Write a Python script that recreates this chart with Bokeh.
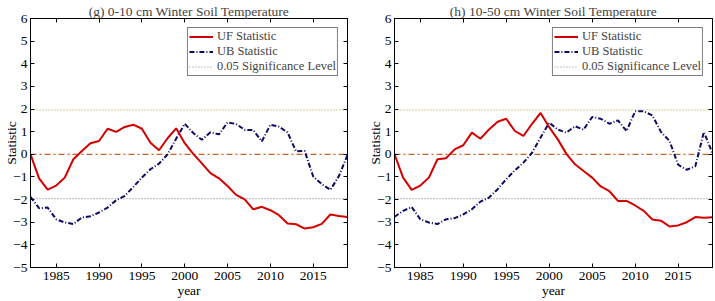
from bokeh.plotting import figure
from bokeh.layouts import row
from bokeh.models import LinearAxis, FixedTicker, Legend, LegendItem, Range1d
from bokeh.embed import file_html
from bokeh.resources import INLINE

years = list(range(1982, 2020))

uf_g = [0.0, -1.06, -1.56, -1.38, -1.03, -0.22, 0.15, 0.49, 0.59, 1.13,
        0.99, 1.21, 1.31, 1.13, 0.51, 0.18, 0.71, 1.15, 0.49, 0.02,
        -0.40, -0.83, -1.06, -1.40, -1.79, -1.99, -2.43, -2.32, -2.47, -2.69,
        -3.06, -3.09, -3.28, -3.22, -3.07, -2.66, -2.72, -2.77]
ub_g = [-1.88, -2.38, -2.35, -2.87, -3.01, -3.08, -2.79, -2.74, -2.57, -2.35,
        -2.03, -1.84, -1.44, -1.03, -0.66, -0.41, 0.0, 0.69, 1.35, 0.94,
        0.64, 0.97, 0.88, 1.41, 1.34, 1.08, 1.07, 0.57, 1.31, 1.22,
        0.97, 0.13, 0.15, -0.98, -1.32, -1.57, -0.96, -0.03]
uf_h = [0.0, -1.03, -1.57, -1.38, -1.03, -0.22, -0.17, 0.22, 0.40, 0.96,
        0.69, 1.10, 1.44, 1.57, 1.03, 0.81, 1.35, 1.83, 1.20, 0.66,
        0.02, -0.44, -0.74, -1.03, -1.42, -1.63, -2.06, -2.06, -2.26, -2.50,
        -2.88, -2.93, -3.19, -3.14, -3.00, -2.77, -2.80, -2.78]
ub_h = [-2.76, -2.50, -2.33, -2.87, -3.01, -3.08, -2.87, -2.82, -2.65, -2.43,
        -2.09, -1.91, -1.54, -1.10, -0.71, -0.37, 0.07, 0.74, 1.40, 1.09,
        0.96, 1.24, 1.09, 1.65, 1.57, 1.35, 1.50, 1.03, 1.90, 1.90,
        1.72, 0.99, 0.59, -0.46, -0.68, -0.53, 0.99, 0.04]

sig_level = 1.96
y_ticks = list(range(-5, 7))
x_ticks = [1985, 1990, 1995, 2000, 2005, 2010, 2015]
titles = ["(g) 0-10 cm Winter Soil Temperature", "(h) 10-50 cm Winter Soil Temperature"]

FONT = "Liberation Serif"
UF_COLOR = "#d40000"
UB_COLOR = "#0c0c66"


def style_axis(ax, labels=True, standoff=2, label_standoff=0, ticks=None):
    ax.axis_line_color = "black"
    ax.major_tick_line_color = "black"
    ax.major_tick_in = 4
    ax.major_tick_out = 0
    ax.minor_tick_line_color = None
    if labels:
        ax.major_label_text_font = FONT
        ax.major_label_text_font_size = "13.5px"
        ax.major_label_text_color = "black"
        ax.major_label_standoff = standoff
        ax.axis_label_text_font = FONT
        ax.axis_label_text_font_size = "13.5px"
        ax.axis_label_text_font_style = "normal"
        ax.axis_label_text_color = "black"
        ax.axis_label_standoff = label_standoff
    else:
        ax.major_label_overrides = {t: "" for t in ticks}
        ax.major_label_standoff = 0


def make(title, uf, ub, width, mbl, mbr):
    p = figure(width=width, height=301, x_range=Range1d(years[0], years[-1]),
               y_range=Range1d(y_ticks[0], y_ticks[-1]), output_backend="svg",
               toolbar_location=None, min_border_left=mbl, min_border_right=mbr,
               min_border_top=18, min_border_bottom=34)
    p.title.text = title
    p.title.text_font = FONT
    p.title.text_font_size = "13.5px"
    p.title.text_font_style = "normal"
    p.title.align = "center"
    p.title.standoff = 0
    p.xgrid.visible = False
    p.ygrid.visible = False
    p.outline_line_color = "black"
    p.background_fill_color = "white"

    p.xaxis.ticker = FixedTicker(ticks=x_ticks)
    p.yaxis.ticker = FixedTicker(ticks=y_ticks)
    p.xaxis.axis_label = "year"
    p.yaxis.axis_label = "Statistic"
    style_axis(p.xaxis[0], standoff=4, label_standoff=0)
    style_axis(p.yaxis[0], standoff=3, label_standoff=-9)

    ra = LinearAxis(ticker=FixedTicker(ticks=y_ticks))
    style_axis(ra, labels=False, ticks=y_ticks)
    p.add_layout(ra, "right")
    ta = LinearAxis(ticker=FixedTicker(ticks=x_ticks))
    style_axis(ta, labels=False, ticks=x_ticks)
    p.add_layout(ta, "above")

    zero = [0.0] * len(years)
    upper = [sig_level] * len(years)
    lower = [-sig_level] * len(years)
    p.line(years, zero, line_color="#c9652c", line_width=1.2, line_dash="6 3 2 3")
    p.line(years, upper, line_color="#c8b45a", line_width=1.2, line_dash="1 2")
    r_sig = p.line(years, lower, line_color="#8a8f9c", line_width=1.2, line_dash="1 2")
    r_ub = p.line(years, ub, line_color=UB_COLOR, line_width=2, line_dash="5 2 1 2")
    r_uf = p.line(years, uf, line_color=UF_COLOR, line_width=2)

    legend = Legend(items=[LegendItem(label="UF Statistic", renderers=[r_uf]),
                           LegendItem(label="UB Statistic", renderers=[r_ub]),
                           LegendItem(label="0.05 Significance Level", renderers=[r_sig])],
                    location="top_right")
    legend.border_line_color = "black"
    legend.border_line_width = 1
    legend.background_fill_color = "white"
    legend.background_fill_alpha = 1
    legend.margin = 9
    legend.padding = 1
    legend.spacing = -3
    legend.label_height = 11
    legend.glyph_height = 11
    legend.glyph_width = 24
    legend.label_standoff = 4
    legend.label_text_font = FONT
    legend.label_text_font_size = "12.5px"
    legend.label_text_line_height = 0.8
    p.add_layout(legend)
    return p


p1 = make(titles[0], uf_g, ub_g, 364, 30, 17)
p2 = make(titles[1], uf_h, ub_h, 351, 30, 3)
layout = row(p1, p2, spacing=0)

open("out.html", "w").write(file_html(layout, INLINE))
